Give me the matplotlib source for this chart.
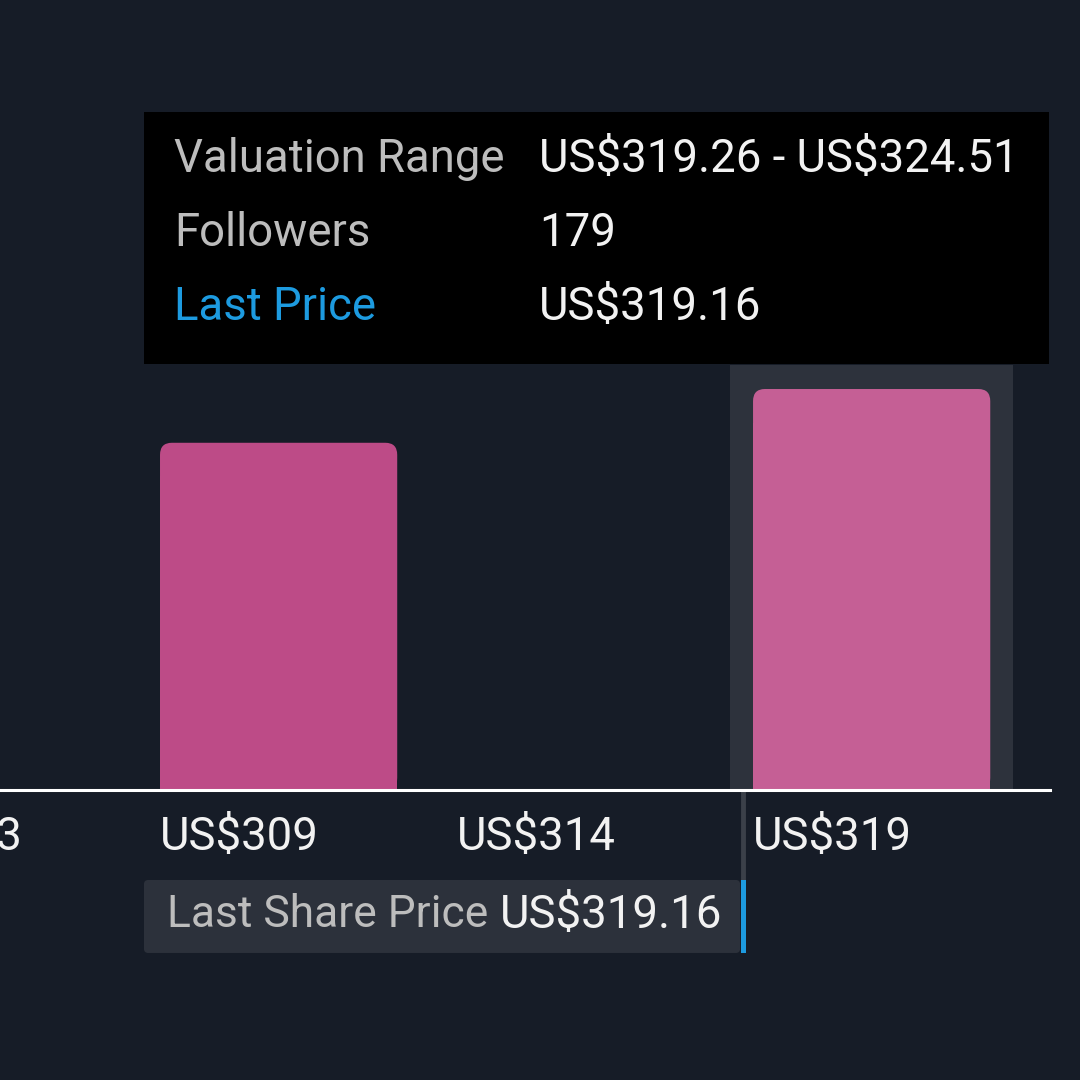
import matplotlib.pyplot as plt
from matplotlib.patches import Rectangle, FancyBboxPatch

plt.rcParams['font.family'] = ['Roboto', 'DejaVu Sans']
plt.rcParams['text.parse_math'] = False

# bins of the valuation histogram (bin start, followers)
bin_starts = [303.51, 308.76, 314.01, 319.26]
bin_labels = ['US$303', 'US$309', 'US$314', 'US$319']
followers = [0, 155, 0, 179]
bin_width = 5.25
last_price = 319.16
hover_bin = 3

tooltip_rows = [('Valuation Range', 'US$319.26 - US$324.51'),
                ('Followers', '179'),
                ('Last Price', 'US$319.16')]

bg = '#161c27'
bar_col = '#bd4b87'
bar_hover = '#c55f95'
grey_txt = '#bdbdbd'
white_txt = '#f2f2f2'
blue = '#1d9be0'
fs = 32.8

fig = plt.figure(figsize=(10.8, 10.8), dpi=100, facecolor=bg)
ax = fig.add_axes([0, 0, 1, 1])
ax.set_facecolor(bg)
ax.set_xlim(305.927, 325.049)
ax.set_ylim(-129.45, 352.65)
ax.axis('off')

bw = bin_width * 0.8
r_x, r_y = 0.21, 5.4

# highlight behind hovered bin
hx = bin_starts[hover_bin] - 0.4
ax.add_patch(Rectangle((hx, 0), bw + 0.8, 189.7, color='#2d323c', lw=0, zorder=1))

for i, (x0, v) in enumerate(zip(bin_starts, followers)):
    if v <= 0:
        continue
    c = bar_hover if i == hover_bin else bar_col
    ax.add_patch(FancyBboxPatch((x0, 0), bw, v,
                                boxstyle=f'round,pad=0,rounding_size={r_x}',
                                mutation_aspect=r_y / r_x, color=c, lw=0, zorder=2))
    ax.add_patch(Rectangle((x0, 0), bw, v - 15, color=c, lw=0, zorder=2))

# baseline
ax.plot([305.927, bin_starts[-1] + bin_width], [0, 0], color='white', lw=2.2, zorder=3)

# tick labels
for x0, lab in zip(bin_starts, bin_labels):
    ax.text(x0, -21, lab, color=white_txt, fontsize=fs, ha='left', va='center', zorder=4)

# last price marker
ax.plot([last_price - 0.08, last_price - 0.08], [-1, -40], color='#3b4049', lw=3.5, zorder=2)
ax.add_patch(FancyBboxPatch((0.1333, 0.1176), 0.552, 0.0676, transform=ax.transAxes,
                            boxstyle='round,pad=0,rounding_size=0.004',
                            color='#2c313b', lw=0, zorder=3))
ax.add_patch(Rectangle((0.6861, 0.1176), 0.0046, 0.0676, transform=ax.transAxes,
                       color=blue, lw=0, zorder=4))
ax.text(0.1546, 0.1525, 'Last Share Price', transform=ax.transAxes, color=grey_txt,
        fontsize=fs - 0.8, ha='left', va='center', zorder=5)
ax.text(0.6685, 0.1525, f'US${last_price:.2f}', transform=ax.transAxes, color=white_txt,
        fontsize=fs, ha='right', va='center', zorder=5)

# tooltip
ax.add_patch(Rectangle((0.1333, 0.663), 0.838, 0.233, transform=ax.transAxes,
                       color='black', lw=0, zorder=6))
row_y = [0.8528, 0.7843, 0.7158]
for (k, val), yy in zip(tooltip_rows, row_y):
    kc = blue if k == 'Last Price' else grey_txt
    ax.text(0.161, yy, k, transform=ax.transAxes, color=kc, fontsize=fs,
            ha='left', va='center', zorder=7)
    ax.text(0.499, yy, val, transform=ax.transAxes, color=white_txt, fontsize=fs,
            ha='left', va='center', zorder=7)

fig.savefig('out.png', dpi=100, facecolor=bg)
